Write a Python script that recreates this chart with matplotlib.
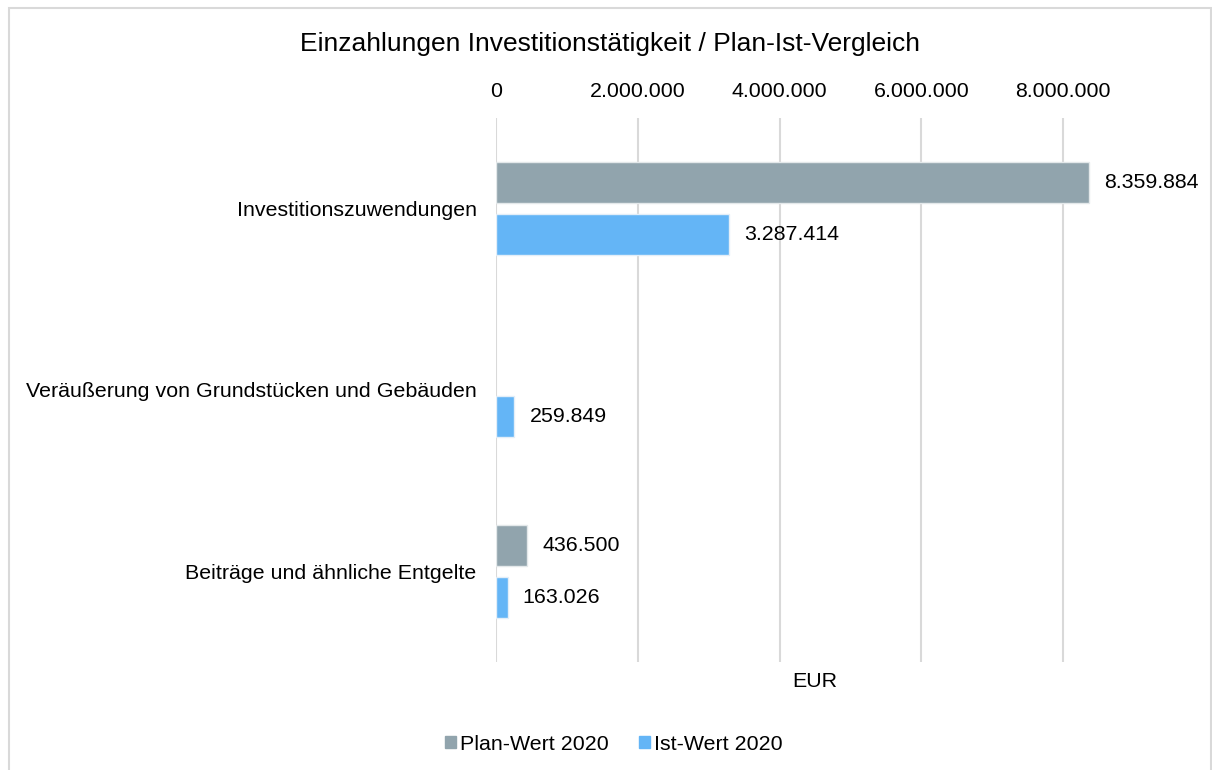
import matplotlib
matplotlib.use('Agg')
import matplotlib.pyplot as plt
import matplotlib.patches as mpatches
from matplotlib.ticker import FuncFormatter
import numpy as np

plt.rcParams['font.family'] = ['Liberation Sans', 'DejaVu Sans']

categories = ['Investitionszuwendungen',
              'Veräußerung von Grundstücken und Gebäuden',
              'Beiträge und ähnliche Entgelte']
plan = [8359884, np.nan, 436500]
ist = [3287414, 259849, 163026]
series_names = ['Plan-Wert 2020', 'Ist-Wert 2020']
x_ticks = [0, 2000000, 4000000, 6000000, 8000000]

C_PLAN = '#91A4AD'
C_IST = '#64B5F6'
C_GRID = '#D9D9D9'
FS = 15.4


def de_fmt(v):
    return f'{v:,.0f}'.replace(',', '.')


fig = plt.figure(figsize=(12.12, 7.70), dpi=100)
ax = fig.add_axes([496 / 1212, 1 - 662 / 770, 638 / 1212, 544 / 770])

y = np.arange(len(categories))
h = 0.226; off = 0.144
b1 = ax.barh(y - off, plan, h, color=C_PLAN, edgecolor='#E3E8EA', lw=1, label=series_names[0])
b2 = ax.barh(y + off, ist, h, color=C_IST, edgecolor='#E3EEF8', lw=1, label=series_names[1])

for bars, vals in ((b1, plan), (b2, ist)):
    for rect, v in zip(bars, vals):
        if np.isnan(v):
            continue
        ax.annotate(de_fmt(v), (v, rect.get_y() + rect.get_height() / 2),
                    xytext=(11, 0), textcoords='offset points',
                    va='center', ha='left', fontsize=FS, annotation_clip=False)

ax.set_xlim(0, 9000000)
ax.set_ylim(2.5, -0.5)
ax.set_xticks(x_ticks)
ax.xaxis.set_major_formatter(FuncFormatter(lambda v, p: de_fmt(v)))
ax.xaxis.tick_top()
ax.tick_params(axis='x', length=0, pad=12.5, labelsize=FS)
ax.set_yticks(y)
ax.set_yticklabels(categories)
ax.tick_params(axis='y', length=0, pad=14, labelsize=FS)
ax.grid(axis='x', color=C_GRID, lw=1.5)
ax.set_axisbelow(True)
for s in ax.spines.values():
    s.set_visible(False)

ax.xaxis.set_label_position('bottom')
ax.set_xlabel('EUR', fontsize=FS, labelpad=7)

fig.text(610 / 1212, 1 - 44 / 770, 'Einzahlungen Investitionstätigkeit / Plan-Ist-Vergleich',
         ha='center', va='center', fontsize=19)

handles = [mpatches.Patch(color=C_PLAN), mpatches.Patch(color=C_IST)]
fig.legend(handles, series_names, loc='center', bbox_to_anchor=(614 / 1212, 1 - 744 / 770),
           ncol=2, frameon=False, fontsize=FS, handlelength=0.5, handleheight=0.5,
           handletextpad=0.2, columnspacing=1.4)

fig.patches.append(mpatches.Rectangle((9 / 1212, -0.1), 1201.5 / 1212, 1.1 - 8 / 770,
                                      transform=fig.transFigure, fill=False,
                                      edgecolor=C_GRID, lw=1.5))

fig.savefig('out.png', dpi=100)
